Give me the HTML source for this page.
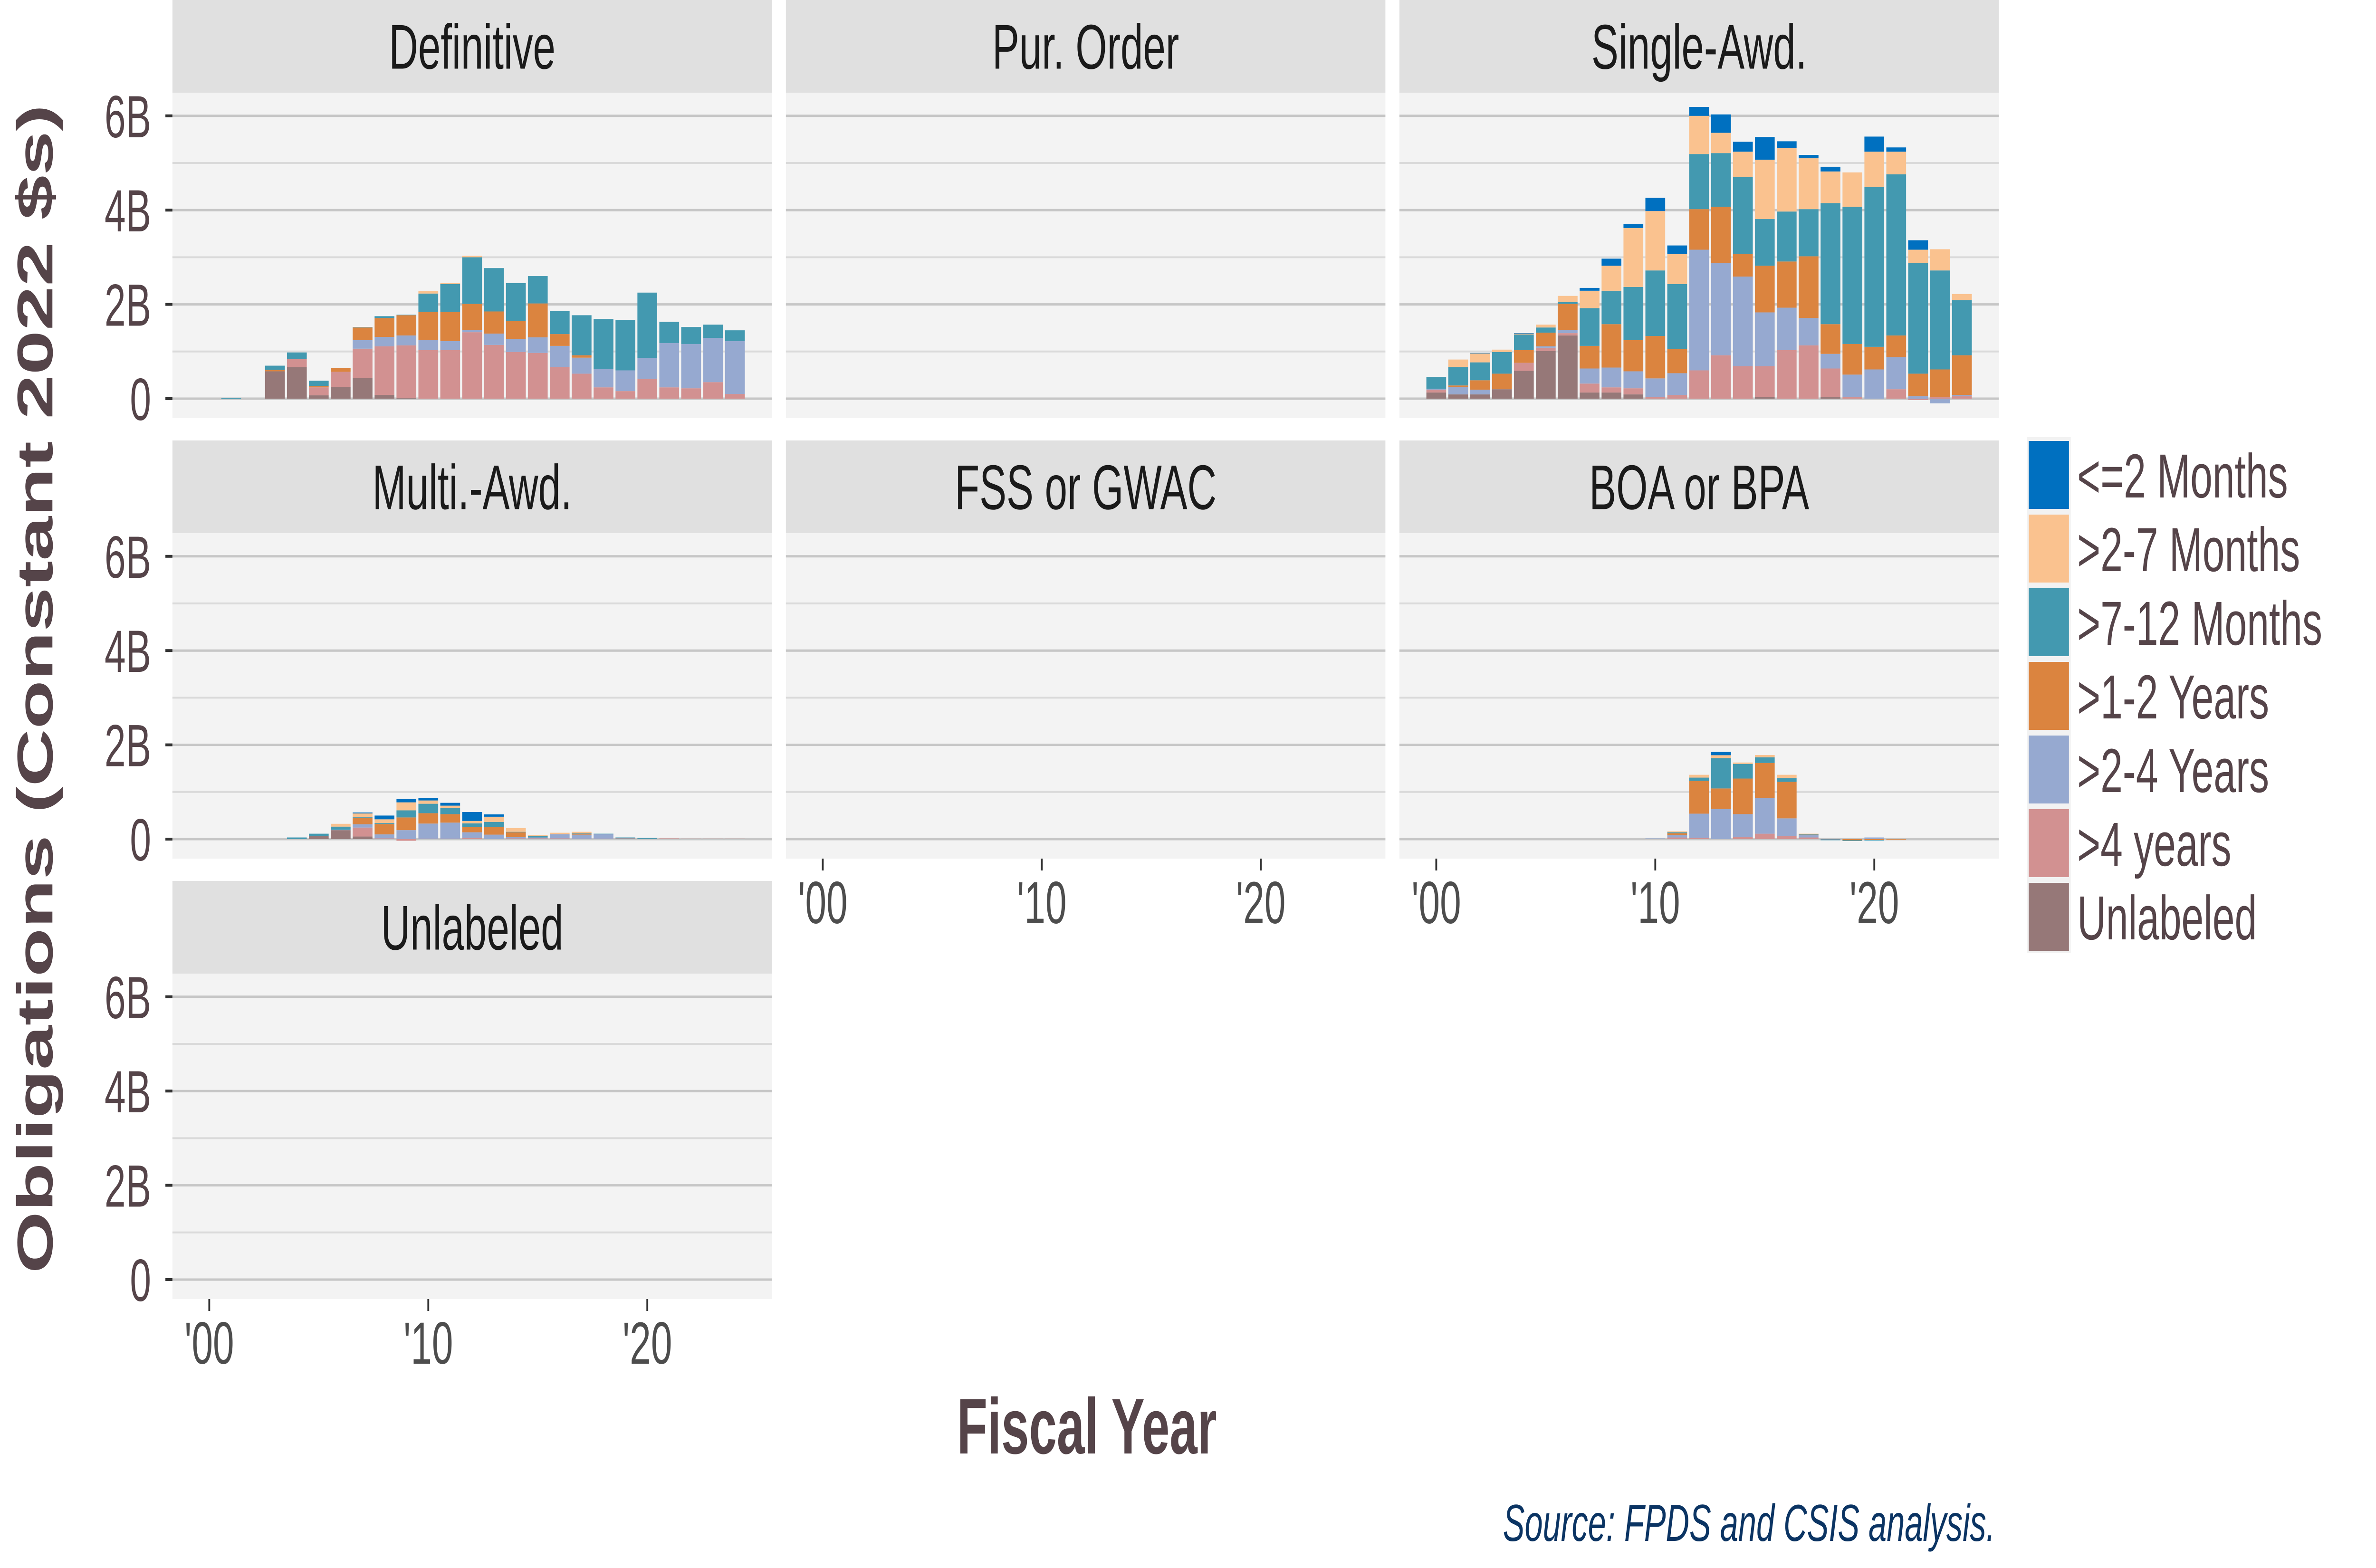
<!DOCTYPE html>
<html><head><meta charset="utf-8">
<style>
html,body{margin:0;padding:0;background:#fff;width:100%;height:100%;overflow:hidden;}
svg{display:block;font-family:"Liberation Sans",Arial,sans-serif;width:100vw;height:100vh;}
</style></head>
<body>
<svg id="chart" xmlns="http://www.w3.org/2000/svg" viewBox="0 0 7800 3300" preserveAspectRatio="none">
<rect width="7800" height="3300" fill="#ffffff"/>
<g id="panels"></g>
<text transform="translate(172,1450) rotate(-90)" text-anchor="middle" font-size="165" font-weight="bold" fill="#554449" textLength="2460" lengthAdjust="spacingAndGlyphs">Obligations (Constant 2022 $s)</text>
<text x="3568" y="3059" text-anchor="middle" font-size="166" font-weight="bold" fill="#554449" textLength="853" lengthAdjust="spacingAndGlyphs">Fiscal Year</text>
<text x="6550" y="3243" text-anchor="end" font-size="110" font-style="italic" fill="#0b3463" textLength="1616" lengthAdjust="spacingAndGlyphs">Source: FPDS and CSIS analysis.</text>
<g id="legend"></g>
</svg>
<script>
// ---- data (values in billions, constant 2022 $), years 2000..2024 ----
const years = [2000,2001,2002,2003,2004,2005,2006,2007,2008,2009,2010,2011,2012,2013,2014,2015,2016,2017,2018,2019,2020,2021,2022,2023,2024];
const categories = ['<=2 Months','>2-7 Months','>7-12 Months','>1-2 Years','>2-4 Years','>4 years','Unlabeled'];
const colors = ['#0070C0','#FAC28F','#4399B0','#DB843F','#96A9D0','#D29191','#967878'];
const panelNames = ['Definitive','Pur. Order','Single-Awd.','Multi.-Awd.','FSS or GWAC','BOA or BPA','Unlabeled'];
const yTicks = [0,2,4,6];
const yTickLabels = ['0','2B','4B','6B'];
const xTicks = [2000,2010,2020];
const xTickLabels = ["'00","'10","'20"];

// Definitive
const defUnl  = [0,0,0,.58,.67,.07,.25,.44,.08,.01,0,0,0,0,0,0,0,0,0,0,0,0,0,0,0];
const defGt4  = [0,0,0,0,.17,.17,.32,.62,1.03,1.12,1.03,1.03,1.41,1.14,.99,.97,.67,.53,.24,.16,.42,.24,.22,.35,.10];
const defY24  = [0,0,0,0,0,0,0,.18,.2,.21,.22,.19,.05,.24,.28,.33,.45,.34,.39,.44,.44,.94,.94,.94,1.12];
const defY12  = [0,0,0,.03,0,.03,.08,.27,.4,.43,.59,.62,.55,.47,.38,.72,.25,.05,0,0,0,0,0,0,0];
const defM712 = [0,.01,0,.09,.14,.11,0,.01,.04,.01,.39,.59,.99,.92,.80,.58,.49,.85,1.06,1.07,1.39,.45,.36,.28,.23];
const defM27  = [0,0,0,0,0,0,0,0,0,0,.05,.02,.03,0,0,0,0,0,0,0,0,0,0,0,0];
const defM2   = [0,0,0,0,0,0,0,0,0,0,0,0,0,0,0,0,0,0,0,0,0,0,0,0,0];

// Single-Award
const saUnl  = [.13,.09,.09,.2,.59,1.01,1.34,.13,.13,.09,0,0,0,0,0,.04,0,0,.03,0,0,0,0,0,0];
const saGt4  = [.06,0,0,0,.17,.07,.05,.19,.11,.13,.04,.08,.6,.92,.69,.65,1.03,1.13,.61,.03,0,.2,-.03,.03,.05];
const saY24  = [.02,.16,.1,0,0,.03,.07,.32,.42,.36,.39,.46,2.56,1.96,1.9,1.14,.9,.58,.31,.48,.62,.68,.05,-.1,.03];
const saY12  = [0,.03,.2,.33,.27,.29,.55,.48,.92,.66,.9,.51,.86,1.19,.48,.99,.98,1.31,.63,.65,.48,.46,.48,.59,.84];
const saM712 = [.25,.39,.38,.46,.33,.11,.04,.8,.71,1.13,1.39,1.38,1.17,1.14,1.63,.99,1.06,1.0,2.57,2.91,3.39,3.42,2.35,2.1,1.17];
const saM27  = [0,.16,.19,.05,.02,.06,.13,.37,.53,1.25,1.26,.64,.81,.43,.54,1.26,1.35,1.08,.67,.73,.75,.48,.28,.45,.13];
const saM2   = [0,0,.01,0,.01,0,0,.06,.15,.08,.28,.18,.19,.39,.21,.48,.14,.07,.1,0,.32,.09,.2,0,0];

// Multiple-Award
const maUnl  = [0,0,0,0,0,.07,.19,.055,0,0,0,0,0,0,0,0,0,0,0,0,0,0,0,0,0];
const maGt4  = [0,0,0,0,0,0,0,.19,.015,-.035,.01,.01,.03,0,.015,.015,.015,.01,.01,.015,.005,.015,.01,.01,.01];
const maY24  = [0,0,0,0,0,0,.01,.07,.085,.19,.32,.34,.115,.095,.03,.02,.09,.085,.095,0,0,0,0,0,0];
const maY12  = [0,0,0,0,0,0,0,.14,.22,.27,.22,.18,.11,.16,.1,0,0,.02,0,0,0,0,0,0,0];
const maM712 = [0,0,0,0,.035,.045,.065,.015,.02,.15,.2,.13,.08,.11,.01,.03,0,.01,.01,.02,.02,0,0,0,0];
const maM27  = [0,0,0,0,0,0,.06,.075,.08,.17,.07,.05,.05,.11,.08,.02,.03,.03,0,0,0,0,0,0,0];
const maM2   = [0,0,0,0,0,0,0,.02,.08,.07,.05,.06,.19,.05,0,0,0,0,0,0,0,0,0,0,0];

// BOA or BPA
const boaUnl  = [0,0,0,0,0,0,0,0,0,0,0,0,0,0,0,0,0,0,0,0,0,0,0,0,0];
const boaGt4  = [0,0,0,0,0,0,0,0,0,0,0,.035,.03,0,.05,.115,.07,.035,-.005,0,0,0,0,0,0];
const boaY24  = [0,0,0,0,0,0,0,0,0,0,.015,.05,.51,.64,.48,.755,.37,.05,0,0,.035,0,0,0,0];
const boaY12  = [0,0,0,0,0,0,0,0,0,0,0,.04,.695,.435,.755,.745,.775,.01,0,-.025,-.02,-.01,0,0,0];
const boaM712 = [0,0,0,0,0,0,0,0,0,0,0,.02,.07,.645,.31,.12,.08,.01,-.02,-.015,-.01,0,0,0,0];
const boaM27  = [0,0,0,0,0,0,0,0,0,0,0,.02,.06,.06,.03,.05,.07,.01,0,0,0,0,0,0,0];
const boaM2   = [0,0,0,0,0,0,0,0,0,0,0,0,0,.07,0,0,0,0,0,0,0,0,0,0,0];

// series per panel in categories order (<=2 ... Unlabeled)
const panelSeries = [
  [defM2, defM27, defM712, defY12, defY24, defGt4, defUnl],
  null,
  [saM2, saM27, saM712, saY12, saY24, saGt4, saUnl],
  [maM2, maM27, maM712, maY12, maY24, maGt4, maUnl],
  null,
  [boaM2, boaM27, boaM712, boaY12, boaY24, boaGt4, boaUnl],
  null
];

// ---- layout ----
const NS = 'http://www.w3.org/2000/svg';
const panelW = 1968, panelH = 685, stripH = 195;
const colStep = 2014, rowStep = 927, left0 = 566;
const zeroOff = 644, perB = 99.2;
const xOff = 121, perYear = 71.9, barW = 65;

function mk(tag, attrs, parent){ const e=document.createElementNS(NS,tag); for(const k in attrs) e.setAttribute(k,attrs[k]); parent.appendChild(e); return e; }
function xScale(c, yr){ return left0 + c*colStep + xOff + (yr-2000)*perYear; }
function yScale(r, v){ return r*rowStep + stripH + zeroOff - v*perB; }

const root = document.getElementById('panels');
panelNames.forEach((name, i) => {
  const r = Math.floor(i/3), c = i%3;
  const px = left0 + c*colStep, top = r*rowStep;
  const g = mk('g', {}, root);
  
  
  const strip = mk('rect', {x:px, y:top, width:panelW, height:stripH, fill:'#e0e0e0'}, g);
  
  
  const st = mk('text', {x:px+panelW/2, y:top+stripH/2+47, 'text-anchor':'middle', 'font-size':133, fill:'#1a1a1a'}, g);
  st.textContent = name;
  
  
  const bg = mk('rect', {x:px, y:top+stripH, width:panelW, height:panelH, fill:'#f3f3f3'}, g);
  
  
  for (let v=0; v<=6; v+=1) {
    const yy = yScale(r, v);
    const gl = mk('line', {x1:px, x2:px+panelW, y1:yy, y2:yy, stroke: v%2===0 ? '#c6c6c6':'#dadada', 'stroke-width': v%2===0 ? 5:4}, g);
    
    
  }
  const series = panelSeries[i];
  if (series) {
    years.forEach((yr, k) => {
      let pos = 0, neg = 0;
      for (let s = categories.length-1; s >= 0; s--) {
        const v = series[s][k];
        if (!v) continue;
        let y0, y1;
        if (v > 0) { y0 = pos; y1 = pos + v; pos = y1; }
        else { y0 = neg + v; y1 = neg; neg = y0; }
        const rect = mk('rect', {x: xScale(c, yr) - barW/2, y: yScale(r, y1), width: barW, height: Math.max(0.5, yScale(r, y0) - yScale(r, y1)), fill: colors[s]}, g);
        
        
      }
    });
  }
  if (c === 0) {
    yTicks.forEach((v, j) => {
      const yy = yScale(r, v);
      const tk = mk('line', {x1:px-23, x2:px, y1:yy, y2:yy, stroke:'#333333', 'stroke-width':6}, g);
      
      
      const tl = mk('text', {x:px-70, y:yy+45, 'text-anchor':'end', 'font-size':125, fill:'#554449'}, g);
      tl.textContent = yTickLabels[j];
      
      
    });
  }
  const isBottom = (c === 0 && r === 2) || (c > 0 && r === 1);
  if (isBottom) {
    const by = top + stripH + panelH;
    xTicks.forEach((yr, j) => {
      const xx = xScale(c, yr);
      const tk = mk('line', {x1:xx, x2:xx, y1:by, y2:by+25, stroke:'#333333', 'stroke-width':6}, g);
      
      
      const tl = mk('text', {x:xx, y:by+136, 'text-anchor':'middle', 'font-size':125, fill:'#4d4d4d'}, g);
      tl.textContent = xTickLabels[j];
      
      
    });
  }
});

const lg = document.getElementById('legend');
const lbg = mk('rect', {x:6654, y:920, width:144, height:1086, fill:'#f2f2f2'}, lg);


categories.forEach((cat, s) => {
  const ky = 928 + s*155;
  const key = mk('rect', {x:6660, y:ky, width:132, height:143, fill:colors[s]}, lg);
  
  
  const t = mk('text', {x:6819, y:ky+119, 'font-size':131, fill:'#554449'}, lg);
  t.textContent = cat;
  
  
});
</script>
</body></html>
